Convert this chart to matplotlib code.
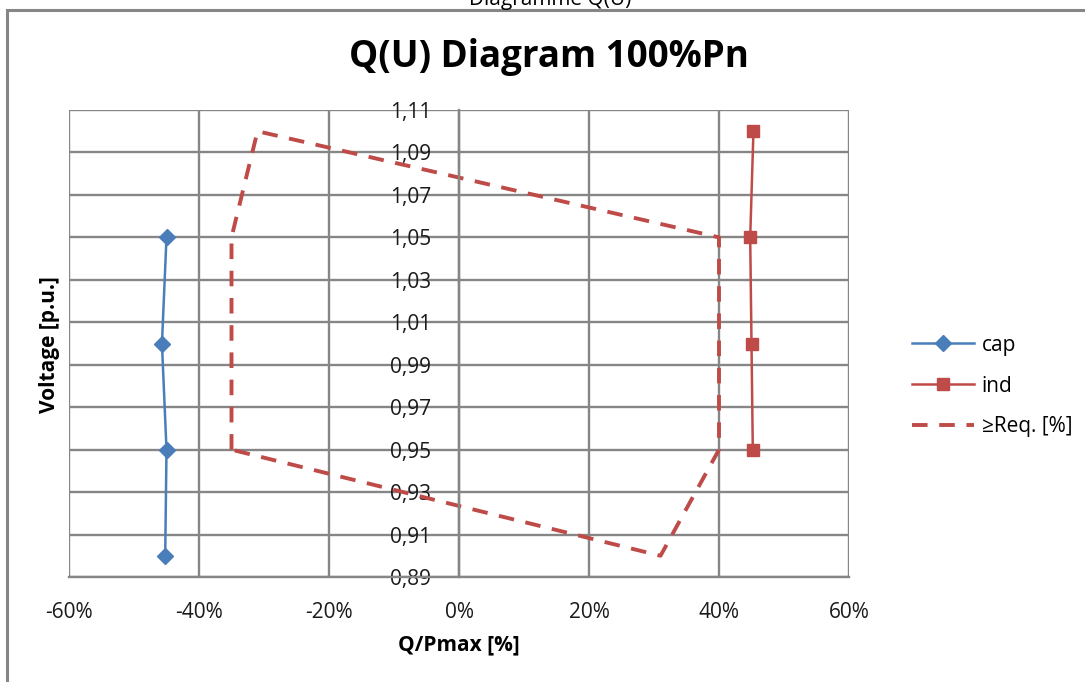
import matplotlib
matplotlib.use("Agg")
import matplotlib.pyplot as plt
from matplotlib.patches import Rectangle
from matplotlib.ticker import FuncFormatter

# Data (Q/Pmax as fraction, voltage in p.u.)
cap_q = [-0.450, -0.457, -0.450, -0.452]
cap_u = [1.05, 1.00, 0.95, 0.90]
ind_q = [0.453, 0.448, 0.450, 0.452]
ind_u = [1.10, 1.05, 1.00, 0.95]
req_q = [-0.35, -0.35, -0.31, 0.40, 0.40, 0.31, -0.35]
req_u = [0.95, 1.05, 1.10, 1.05, 0.95, 0.90, 0.95]

x_ticks = [-0.6, -0.4, -0.2, 0.0, 0.2, 0.4, 0.6]
y_ticks = [0.89, 0.91, 0.93, 0.95, 0.97, 0.99, 1.01, 1.03, 1.05, 1.07, 1.09, 1.11]

plt.rcParams['font.family'] = ['Open Sans', 'DejaVu Sans']

blue = '#4a7ebb'
red = '#be4b48'
grid = '#868686'

fig = plt.figure(figsize=(10.85, 6.82), dpi=100)
ax = fig.add_axes([69 / 1085, 1 - 577 / 682, 780 / 1085, 467 / 682])

# outer chart frame (cut off on the right and bottom)
fig.patches.append(Rectangle((7 / 1085, -0.1), 1.2, 1.1 - 10 / 682, transform=fig.transFigure,
                             fill=False, edgecolor=grid, lw=2.2))
fig.text(550 / 1085, 1.0, "Diagramme Q(U)", ha='center', va='center', fontsize=15)
fig.text(549 / 1085, 1 - 57 / 682, "Q(U) Diagram 100%Pn", ha='center', va='center',
         fontsize=26.5, fontweight='bold')

ax.plot(cap_q, cap_u, color=blue, lw=1.8, marker='D', ms=8, label='cap')
ax.plot(ind_q, ind_u, color=red, lw=1.8, marker='s', ms=9, label='ind')
ax.plot(req_q, req_u, color=red, lw=2.8, ls=(0, (4, 3)), label='\u2265Req. [%]')

ax.set_xlim(-0.6, 0.6)
ax.set_ylim(0.89, 1.11)
ax.set_xticks(x_ticks)
ax.set_yticks(y_ticks)
ax.xaxis.set_major_formatter(FuncFormatter(lambda v, p: f"{v * 100:.0f}%"))
ax.yaxis.set_major_formatter(FuncFormatter(lambda v, p: f"{v:.2f}".replace('.', ',')))
ax.grid(True, color=grid, lw=1.7)
ax.set_axisbelow(True)

for s in ['top', 'right']:
    ax.spines[s].set_visible(False)
ax.spines['left'].set_position(('data', 0))
ax.spines['left'].set_color(grid)
ax.spines['left'].set_linewidth(1.7)
ax.spines['bottom'].set_color(grid)
ax.spines['bottom'].set_linewidth(1.7)
ax.tick_params(axis='both', length=0, labelsize=15, colors='#1a1a1a')
ax.tick_params(axis='y', pad=20)
ax.tick_params(axis='x', pad=18)

fig.text(50 / 1085, 1 - 345 / 682, "Voltage [p.u.]", rotation=90, ha='center', va='center',
         fontsize=15, fontweight='bold')
fig.text(459 / 1085, 1 - 645 / 682, "Q/Pmax [%]", ha='center', va='center',
         fontsize=15, fontweight='bold')

ax.legend(loc='center left', bbox_to_anchor=(893 / 1085, 1 - 386 / 682), bbox_transform=fig.transFigure,
          frameon=False, fontsize=15, handlelength=3.0, labelspacing=0.95, handletextpad=0.35)

fig.savefig("out.png", dpi=100)
